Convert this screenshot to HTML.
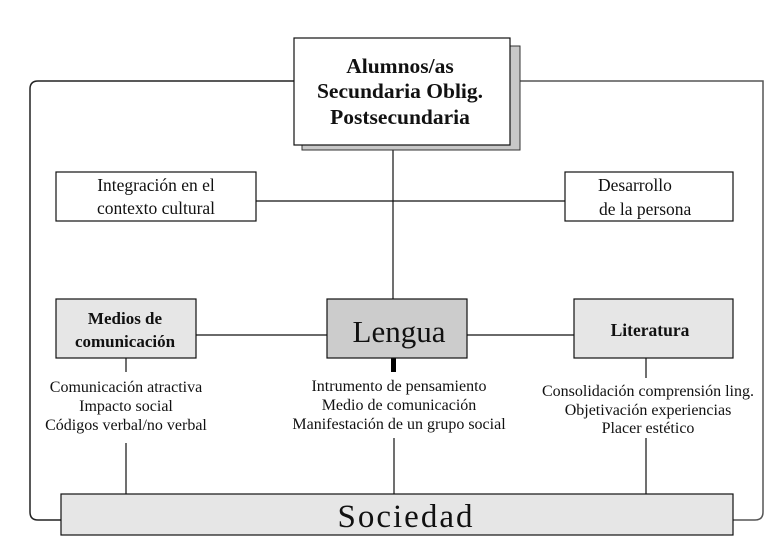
<!DOCTYPE html>
<html><head><meta charset="utf-8"><style>
html,body{margin:0;padding:0;background:#fff;}
svg{display:block;}
text{font-family:"Liberation Serif",serif;fill:#111;}
</style></head><body>
<svg width="780" height="544" viewBox="0 0 780 544" xmlns="http://www.w3.org/2000/svg">
<path d="M294,81 H38 Q30,81 30,89 V512 Q30,520 38,520 H61" fill="none" stroke="#222" stroke-width="1.5"/>
<path d="M510,81 H763 V512 Q763,520 755,520 H733" fill="none" stroke="#555" stroke-width="1.5"/>
<line x1="393" y1="145" x2="393" y2="299" stroke="#111" stroke-width="1.2"/>
<line x1="256" y1="201" x2="565" y2="201" stroke="#111" stroke-width="1.2"/>
<line x1="196" y1="335" x2="327" y2="335" stroke="#111" stroke-width="1.2"/>
<line x1="467" y1="335" x2="574" y2="335" stroke="#111" stroke-width="1.2"/>
<rect x="391" y="358" width="5" height="14" fill="#000"/>
<line x1="126" y1="358" x2="126" y2="372" stroke="#111" stroke-width="1.2"/>
<line x1="126" y1="443" x2="126" y2="494" stroke="#111" stroke-width="1.2"/>
<line x1="394" y1="438" x2="394" y2="494" stroke="#111" stroke-width="1.2"/>
<line x1="646" y1="358" x2="646" y2="378" stroke="#111" stroke-width="1.2"/>
<line x1="646" y1="438" x2="646" y2="494" stroke="#111" stroke-width="1.2"/>
<rect x="302" y="46" width="218" height="104" fill="#c8c8c8" stroke="#333" stroke-width="1"/>
<rect x="294" y="38" width="216" height="107" fill="#fff" stroke="#111" stroke-width="1.2"/>
<text x="400" y="73" font-size="21.5" font-weight="bold" text-anchor="middle">Alumnos/as</text>
<text x="400" y="98" font-size="21.5" font-weight="bold" text-anchor="middle">Secundaria Oblig.</text>
<text x="400" y="124" font-size="21.5" font-weight="bold" text-anchor="middle">Postsecundaria</text>
<rect x="56" y="172" width="200" height="49" fill="#fff" stroke="#111" stroke-width="1.2"/>
<text x="156" y="191" font-size="17.5" text-anchor="middle">Integración en el</text>
<text x="156" y="214" font-size="17.5" text-anchor="middle">contexto cultural</text>
<rect x="565" y="172" width="168" height="49" fill="#fff" stroke="#111" stroke-width="1.2"/>
<text x="598" y="191" font-size="17.5">Desarrollo</text>
<text x="599" y="215" font-size="17.5">de la persona</text>
<rect x="56" y="299" width="140" height="59" fill="#e6e6e6" stroke="#111" stroke-width="1.2"/>
<text x="125" y="324" font-size="17" font-weight="bold" text-anchor="middle">Medios de</text>
<text x="125" y="347" font-size="17" font-weight="bold" text-anchor="middle">comunicación</text>
<rect x="327" y="299" width="140" height="59" fill="#cccccc" stroke="#111" stroke-width="1.2"/>
<text x="399" y="342" font-size="31" text-anchor="middle">Lengua</text>
<rect x="574" y="299" width="159" height="59" fill="#e6e6e6" stroke="#111" stroke-width="1.2"/>
<text x="650" y="336" font-size="17.5" font-weight="bold" text-anchor="middle">Literatura</text>
<g font-size="16" text-anchor="middle">
<text x="126" y="392">Comunicación atractiva</text>
<text x="126" y="411">Impacto social</text>
<text x="126" y="430">Códigos verbal/no verbal</text>
<text x="399" y="391">Intrumento de pensamiento</text>
<text x="399" y="410">Medio de comunicación</text>
<text x="399" y="429">Manifestación de un grupo social</text>
<text x="648" y="396">Consolidación comprensión ling.</text>
<text x="648" y="415">Objetivación experiencias</text>
<text x="648" y="433">Placer estético</text>
</g>
<rect x="61" y="494" width="672" height="41" fill="#e6e6e6" stroke="#111" stroke-width="1.2"/>
<text x="406" y="527" font-size="33" letter-spacing="2" text-anchor="middle">Sociedad</text>
</svg>
</body></html>
